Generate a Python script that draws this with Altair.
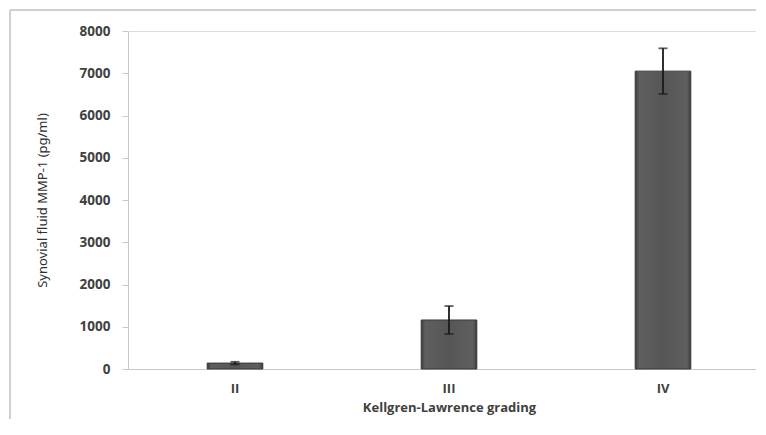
import altair as alt
import pandas as pd

grades = ["II", "III", "IV"]
means = [140, 1160, 7050]
errors = [30, 330, 540]

df = pd.DataFrame({"grade": grades, "mean": means, "err": errors})
df["lo"] = df["mean"] - df["err"]
df["hi"] = df["mean"] + df["err"]

W, H = 628, 338
FONT = "Open Sans"

x_enc = alt.X("grade:N", sort=grades,
              scale=alt.Scale(paddingInner=0.74, paddingOuter=0.37,
                              range=[0, 642]),
              axis=alt.Axis(title="Kellgren-Lawrence grading", labelAngle=0,
                            ticks=False, labelPadding=13, titlePadding=6,
                            domainColor="#c8c8c8", labelFont=FONT,
                            labelFontWeight="bold", labelFontSize=13,
                            labelColor="#404040", titleFont=FONT,
                            titleFontWeight="bold", titleFontSize=13,
                            titleColor="#404040"))

y_scale = alt.Scale(domain=[0, 8000], nice=False)

grad = alt.Gradient(
    gradient="linear", x1=0, x2=1, y1=0, y2=0,
    stops=[alt.GradientStop(color="#3a3a3a", offset=0),
           alt.GradientStop(color="#5f5f5f", offset=0.07),
           alt.GradientStop(color="#565656", offset=0.5),
           alt.GradientStop(color="#5f5f5f", offset=0.93),
           alt.GradientStop(color="#3a3a3a", offset=1)])

bars = alt.Chart(df).mark_bar(color=grad, stroke="#3a3a3a",
                              strokeWidth=1).encode(
    x=x_enc,
    y=alt.Y("mean:Q", scale=y_scale,
            axis=alt.Axis(title="Synovial fluid MMP-1 (pg/ml)", format="d",
                          values=list(range(0, 8001, 1000)), grid=False,
                          tickSize=6, tickColor="#c8c8c8",
                          domainColor="#c8c8c8", labelPadding=12,
                          labelFont=FONT, labelFontWeight="bold",
                          labelFontSize=13.5, labelColor="#404040",
                          titleFont="Noto Sans",
                          titleFontWeight="normal", titleFontSize=13,
                          titleColor="#303030", titlePadding=30)),
)

rules = alt.Chart(df).mark_rule(color="#1a1a1a", strokeWidth=1.8).encode(
    x=alt.X("grade:N", sort=grades),
    y=alt.Y("lo:Q", scale=y_scale),
    y2="hi:Q",
)
caps_hi = alt.Chart(df).mark_tick(color="#1a1a1a", thickness=1.8, size=9).encode(
    x=alt.X("grade:N", sort=grades),
    y=alt.Y("hi:Q", scale=y_scale),
)
caps_lo = alt.Chart(df).mark_tick(color="#1a1a1a", thickness=1.8, size=9).encode(
    x=alt.X("grade:N", sort=grades),
    y=alt.Y("lo:Q", scale=y_scale),
)

one = pd.DataFrame({"a": [0]})
border_left = alt.Chart(one).mark_rule(
    color="#c0c0c0", strokeWidth=1.5, clip=False
).encode(x=alt.value(-118), y=alt.value(-21), y2=alt.value(H + 80))
border_top = alt.Chart(one).mark_rule(
    color="#c0c0c0", strokeWidth=1.5, clip=False
).encode(x=alt.value(-118), x2=alt.value(W + 200), y=alt.value(-21))

chart = alt.layer(border_left, border_top, bars, rules, caps_hi, caps_lo).properties(
    width=W, height=H,
    autosize=alt.AutoSizeParams(type="none"),
    padding={"left": 120, "top": 23, "right": 0, "bottom": 50},
).configure_view(stroke=None).configure(background="white")

chart.save("out.html", embed_options={"renderer": "svg", "actions": False})
